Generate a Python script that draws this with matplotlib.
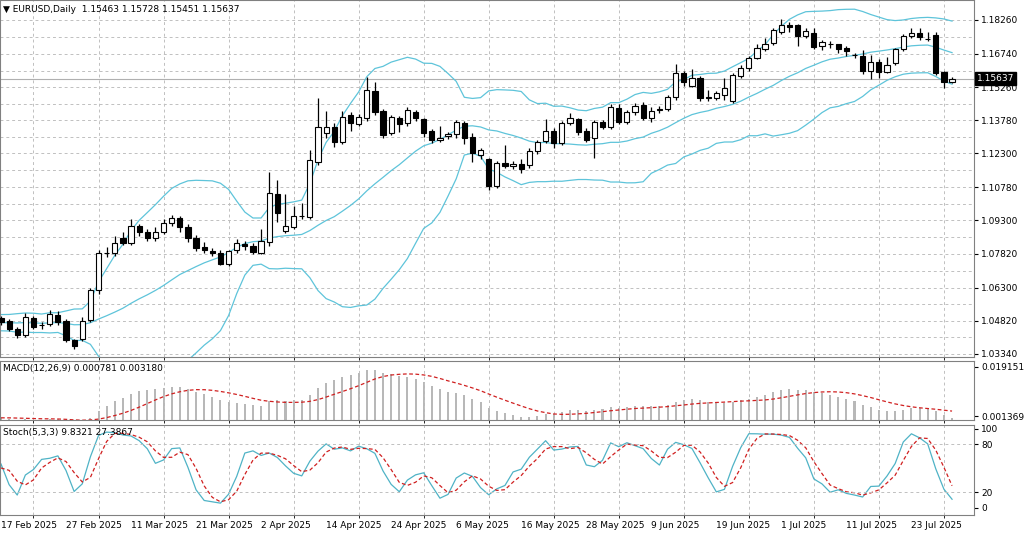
import matplotlib
matplotlib.use("Agg")
import matplotlib.pyplot as plt
import numpy as np
import pandas as pd

# closes before the visible window (only used to warm up the indicators)
pre_close = [1.0430, 1.0445, 1.0470, 1.0455, 1.0480, 1.0462, 1.0440, 1.0455, 1.0478, 1.0490,
             1.0472, 1.0450, 1.0438, 1.0460, 1.0485, 1.0500, 1.0475, 1.0452, 1.0468, 1.0490,
             1.0470, 1.0445, 1.0460, 1.0488, 1.0505, 1.0482, 1.0465, 1.0478, 1.0495, 1.0485]

opens = [1.0494, 1.0480, 1.0445, 1.0418, 1.0494, 1.0463, 1.0467, 1.0507, 1.0480, 1.0396,
         1.0400, 1.0485, 1.0619, 1.0784, 1.0784, 1.0852, 1.0829, 1.0905, 1.0878, 1.0852,
         1.0878, 1.0919, 1.0941, 1.0901, 1.0852, 1.0811, 1.0793, 1.0784, 1.0735, 1.0798,
         1.0825, 1.0816, 1.0784, 1.0834, 1.1048, 1.0883, 1.0901, 1.0950, 1.0945, 1.1191,
         1.1321, 1.1348, 1.1281, 1.1401, 1.1361, 1.1388, 1.1509, 1.1419, 1.1321, 1.1388,
         1.1366, 1.1415, 1.1383, 1.1330, 1.1290, 1.1307, 1.1316, 1.1366, 1.1303, 1.1222,
         1.1205, 1.1084, 1.1187, 1.1173, 1.1182, 1.1178, 1.1240, 1.1285, 1.1330, 1.1276,
         1.1366, 1.1383, 1.1330, 1.1299, 1.1370, 1.1348, 1.1433, 1.1370, 1.1415, 1.1446,
         1.1388, 1.1424, 1.1428, 1.1482, 1.1589, 1.1531, 1.1567, 1.1482, 1.1477, 1.1491,
         1.1464, 1.1576, 1.1611, 1.1656, 1.1696, 1.1723, 1.1772, 1.1804, 1.1804, 1.1754,
         1.1768, 1.1710, 1.1719, 1.1719, 1.1701, 1.1670, 1.1665, 1.1598, 1.1638, 1.1594,
         1.1634, 1.1696, 1.1754, 1.1768, 1.1741, 1.1759, 1.1594, 1.1549]
closes = [1.0476, 1.0445, 1.0418, 1.0498, 1.0454, 1.0465, 1.0512, 1.0476, 1.0396, 1.0369,
          1.0480, 1.0619, 1.0784, 1.0786, 1.0829, 1.0829, 1.0905, 1.0878, 1.0852, 1.0878,
          1.0919, 1.0941, 1.0901, 1.0852, 1.0807, 1.0798, 1.0784, 1.0735, 1.0793, 1.0829,
          1.0816, 1.0789, 1.0838, 1.1053, 1.0963, 1.0905, 1.0950, 1.0948, 1.1200, 1.1348,
          1.1348, 1.1281, 1.1392, 1.1366, 1.1392, 1.1513, 1.1415, 1.1312, 1.1392, 1.1361,
          1.1424, 1.1388, 1.1321, 1.1290, 1.1299, 1.1316, 1.1370, 1.1299, 1.1231, 1.1245,
          1.1084, 1.1187, 1.1173, 1.1182, 1.1160, 1.1240, 1.1281, 1.1330, 1.1276, 1.1366,
          1.1388, 1.1325, 1.1290, 1.1370, 1.1348, 1.1437, 1.1370, 1.1415, 1.1442, 1.1388,
          1.1419, 1.1426, 1.1482, 1.1589, 1.1549, 1.1567, 1.1477, 1.1477, 1.1500, 1.1522,
          1.1580, 1.1611, 1.1656, 1.1701, 1.1719, 1.1781, 1.1804, 1.1795, 1.1754, 1.1777,
          1.1705, 1.1728, 1.1717, 1.1696, 1.1687, 1.1668, 1.1598, 1.1638, 1.1594, 1.1625,
          1.1696, 1.1754, 1.1768, 1.1750, 1.1739, 1.1589, 1.1549, 1.15637]
highs = [1.0505, 1.0490, 1.0455, 1.0515, 1.0505, 1.0475, 1.0530, 1.0525, 1.0490, 1.0400,
         1.0500, 1.0630, 1.0800, 1.0810, 1.0860, 1.0880, 1.0935, 1.0915, 1.0890, 1.0900,
         1.0935, 1.0955, 1.0950, 1.0915, 1.0865, 1.0835, 1.0805, 1.0800, 1.0800, 1.0845,
         1.0840, 1.0830, 1.0890, 1.1145, 1.1110, 1.1050, 1.0995, 1.1010, 1.1245, 1.1475,
         1.1420, 1.1365, 1.1420, 1.1415, 1.1405, 1.1570, 1.1550, 1.1430, 1.1400, 1.1395,
         1.1435, 1.1425, 1.1390, 1.1340, 1.1350, 1.1325, 1.1380, 1.1375, 1.1320, 1.1255,
         1.1210, 1.1195, 1.1265, 1.1195, 1.1205, 1.1255, 1.1290, 1.1385, 1.1345, 1.1375,
         1.1410, 1.1390, 1.1345, 1.1380, 1.1380, 1.1450, 1.1450, 1.1425, 1.1455, 1.1460,
         1.1435, 1.1440, 1.1490, 1.1630, 1.1600, 1.1605, 1.1575, 1.1515, 1.1510, 1.1565,
         1.1590, 1.1625, 1.1665, 1.1720, 1.1745, 1.1790, 1.1830, 1.1815, 1.1810, 1.1790,
         1.1790, 1.1735, 1.1730, 1.1720, 1.1710, 1.1680, 1.1690, 1.1670, 1.1650, 1.1660,
         1.1700, 1.1765, 1.1790, 1.1790, 1.1770, 1.1770, 1.1600, 1.1573]
lows = [1.0465, 1.0435, 1.0405, 1.0410, 1.0445, 1.0445, 1.0460, 1.0465, 1.0385, 1.0355,
        1.0390, 1.0475, 1.0600, 1.0765, 1.0770, 1.0820, 1.0820, 1.0860, 1.0840, 1.0840,
        1.0870, 1.0905, 1.0880, 1.0835, 1.0795, 1.0785, 1.0770, 1.0730, 1.0725, 1.0785,
        1.0800, 1.0780, 1.0780, 1.0815, 1.0925, 1.0875, 1.0890, 1.0935, 1.0935, 1.1180,
        1.1300, 1.1260, 1.1270, 1.1330, 1.1350, 1.1375, 1.1400, 1.1300, 1.1310, 1.1325,
        1.1350, 1.1375, 1.1305, 1.1275, 1.1280, 1.1295, 1.1300, 1.1270, 1.1190, 1.1205,
        1.1065, 1.1075, 1.1165, 1.1160, 1.1140, 1.1165, 1.1225, 1.1275, 1.1255, 1.1265,
        1.1355, 1.1310, 1.1280, 1.1210, 1.1340, 1.1340, 1.1360, 1.1360, 1.1400, 1.1380,
        1.1370, 1.1410, 1.1420, 1.1470, 1.1530, 1.1525, 1.1465, 1.1465, 1.1470, 1.1470,
        1.1455, 1.1565, 1.1600, 1.1650, 1.1685, 1.1715, 1.1765, 1.1770, 1.1710, 1.1745,
        1.1695, 1.1690, 1.1700, 1.1680, 1.1665, 1.1655, 1.1585, 1.1560, 1.1565, 1.1590,
        1.1625, 1.1685, 1.1745, 1.1735, 1.1730, 1.1580, 1.1520, 1.1545]

price_ticks = [1.03340, 1.04820, 1.06300, 1.07820, 1.09300, 1.10780,
               1.12300, 1.13780, 1.15260, 1.16740, 1.18260]
dates = pd.bdate_range("2025-02-17", periods=len(closes))
last_price = 1.15637

# indicators on warm-up + visible closes
n_pre = len(pre_close)
c_all = pd.Series(pre_close + closes)
hi_all = pd.Series(pre_close + highs)
lo_all = pd.Series(pre_close + lows)
mid = c_all.rolling(20).mean()
sd = c_all.rolling(20).std(ddof=0)
upper, lower = mid + 2 * sd, mid - 2 * sd
macd = c_all.ewm(span=12, adjust=False).mean() - c_all.ewm(span=26, adjust=False).mean()
signal = macd.rolling(9).mean()
hh = hi_all.rolling(5).max()
ll = lo_all.rolling(5).min()
k = ((c_all - ll).rolling(3).sum() / (hh - ll).rolling(3).sum()) * 100
d = k.rolling(3).mean()

x = np.arange(len(closes))
sl = slice(n_pre, None)

BAND = "#5ec4da"
GRID = "#c0c0c0"
plt.rcParams["font.family"] = "DejaVu Sans"
plt.rcParams["font.size"] = 6.5

fig = plt.figure(figsize=(10.24, 5.4), dpi=100)
W = 974 / 1024
ax = fig.add_axes([0, 183 / 540, W, 357 / 540])
ax_m = fig.add_axes([0, 120 / 540, W, 59 / 540], sharex=ax)
ax_s = fig.add_axes([0, 25 / 540, W, 90 / 540], sharex=ax)

for a in (ax, ax_m, ax_s):
    a.set_facecolor("white")
    for s in a.spines.values():
        s.set_color("#808080")
        s.set_linewidth(0.8)
    a.yaxis.tick_right()
    a.tick_params(axis="y", length=3, pad=2, labelsize=6.5)
    a.tick_params(axis="x", length=0)
    a.set_xticks(np.arange(0, len(closes) + 4, 4), minor=True)
    a.grid(which="minor", axis="x", color=GRID, ls=(0, (3, 3)), lw=0.7)

# price panel
ax.plot(x, upper[sl], color=BAND, lw=0.9)
ax.plot(x, mid[sl], color=BAND, lw=0.9)
ax.plot(x, lower[sl], color=BAND, lw=0.9)
for i in range(len(closes)):
    o, c = opens[i], closes[i]
    ax.vlines(x[i], lows[i], highs[i], color="black", lw=0.9, zorder=3)
    bot, h = min(o, c), max(abs(c - o), 0.0002)
    fc = "black" if c < o else "white"
    ax.add_patch(plt.Rectangle((x[i] - 0.32, bot), 0.64, h, facecolor=fc,
                               edgecolor="black", lw=0.8, zorder=4))
ax.axhline(last_price, color="#b0b0b0", lw=0.8, zorder=1)
ax.set_ylim(1.0320, 1.1915)
ax.set_yticks(price_ticks)
ax.set_yticklabels([f"{p:.5f}" for p in price_ticks])
mids = [(a + b) / 2 for a, b in zip(price_ticks[:-1], price_ticks[1:])]
for p in price_ticks + mids:
    ax.axhline(p, color=GRID, ls=(0, (3, 3)), lw=0.7, zorder=0)
ax.text(1.003, last_price, f"{last_price:.5f}", transform=ax.get_yaxis_transform(),
        va="center", ha="left", color="white", fontsize=6.5,
        bbox=dict(boxstyle="square,pad=0.2", fc="black", ec="black"))
ax.text(0.003, 0.985, "▼ EURUSD,Daily  1.15463 1.15728 1.15451 1.15637",
        transform=ax.transAxes, va="top", ha="left")
ax.tick_params(axis="x", labelbottom=False)

# MACD panel
ax_m.bar(x, macd[sl], width=0.25, color="#b8b8b8")
ax_m.plot(x, signal[sl], color="#d02020", ls=(0, (3, 2)), lw=0.9)
ax_m.set_ylim(0, 0.0213)
ax_m.set_yticks([0.019151, 0.001369])
ax_m.set_yticklabels(["0.019151", "0.001369"])
ax_m.text(0.003, 0.95, "MACD(12,26,9) 0.000781 0.003180", transform=ax_m.transAxes,
          va="top", ha="left")
ax_m.tick_params(axis="x", labelbottom=False)

# Stochastic panel
ax_s.plot(x, k[sl], color="#4fb3c6", lw=0.9)
ax_s.plot(x, d[sl], color="#d02020", ls=(0, (3, 2)), lw=0.9)
ax_s.set_ylim(-9, 104.6)
ax_s.set_yticks([100, 80, 20, 0])
for lvl in (20, 80):
    ax_s.axhline(lvl, color=GRID, ls=(0, (3, 3)), lw=0.7)
ax_s.text(0.003, 0.97, "Stoch(5,3,3) 9.8321 27.3867", transform=ax_s.transAxes,
          va="top", ha="left")
ticks = np.arange(0, len(closes), 8)
ax_s.set_xticks(ticks)
ax_s.set_xticklabels([dates[t].strftime("%-d %b %Y") for t in ticks], ha="left")
ax_s.tick_params(axis="x", pad=4, labelsize=6.5)
ax_s.set_xlim(-0.12, 119.7)

fig.savefig("out.png", dpi=100, facecolor="white")
